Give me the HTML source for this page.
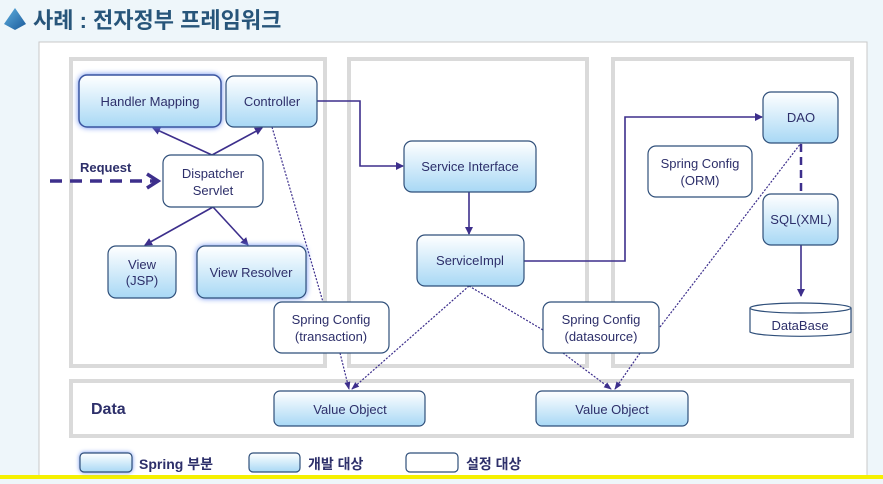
<!DOCTYPE html>
<html><head><meta charset="utf-8"><style>
body{margin:0;width:883px;height:479px;overflow:hidden;background:#eef6fa;font-family:"Liberation Sans","Noto Sans CJK KR",sans-serif}
</style></head><body>
<svg width="883" height="479" xmlns="http://www.w3.org/2000/svg" font-family="Liberation Sans, Noto Sans CJK KR, sans-serif">
<defs>
<linearGradient id="g" x1="0" y1="0" x2="0" y2="1"><stop offset="0" stop-color="#ffffff"/><stop offset="1" stop-color="#a8d8f5"/></linearGradient>
<linearGradient id="d" x1="0" y1="0" x2="1" y2="1"><stop offset="0" stop-color="#5fb0e0"/><stop offset="1" stop-color="#1a5a9a"/></linearGradient>
<marker id="a" markerWidth="8" markerHeight="8" refX="7" refY="4" orient="auto" markerUnits="userSpaceOnUse"><path d="M0,0 L8,4 L0,8 z" fill="#3d2f8c"/></marker>
<marker id="s" markerWidth="8" markerHeight="8" refX="7" refY="4" orient="auto" markerUnits="userSpaceOnUse"><path d="M0,1 L8,4 L0,7 z" fill="#3d2f8c"/></marker>
</defs>
<polygon points="15,8 26,24 15,30 4,24" fill="url(#d)"/>
<text x="33" y="28" font-size="22" fill="#27557a" font-weight="bold">사례 : 전자정부 프레임워크</text>
<rect x="39" y="42" width="828" height="440" fill="#fff" stroke="#c8c8c8"/>
<rect x="0" y="475" width="883" height="4" fill="#f5f000"/>
<g fill="none" stroke="#dadada" stroke-width="4">
<rect x="71" y="59" width="254" height="307"/>
<rect x="349" y="59" width="238" height="307"/>
<rect x="613" y="59" width="239" height="307"/>
<rect x="71" y="381" width="781" height="55"/>
</g>
<g stroke="#3d2f8c" stroke-width="1.6" fill="none">
<line x1="212" y1="155" x2="153" y2="128" marker-end="url(#a)"/>
<line x1="212" y1="155" x2="262" y2="128" marker-end="url(#a)"/>
<line x1="213" y1="207" x2="145" y2="245" marker-end="url(#a)"/>
<line x1="213" y1="207" x2="248" y2="245" marker-end="url(#a)"/>
<polyline points="317,101 360,101 360,166 403,166" marker-end="url(#a)"/>
<line x1="469" y1="192" x2="469" y2="234" marker-end="url(#a)"/>
<polyline points="524,261 625,261 625,117 762,117" marker-end="url(#a)"/>
<line x1="801" y1="245" x2="801" y2="296" marker-end="url(#a)"/>
<line x1="801" y1="144" x2="801" y2="194" stroke-width="2.5" stroke-dasharray="8,5"/>
<line x1="50" y1="181" x2="156" y2="181" stroke-width="3.5" stroke-dasharray="12,8"/>
<polyline points="147,174 158,181 147,188" stroke-width="3.5"/>
<g stroke-width="1.2" stroke-dasharray="2,1.5">
<line x1="272" y1="127" x2="323" y2="302"/>
<line x1="340" y1="353" x2="349" y2="389" marker-end="url(#s)"/>
<line x1="469" y1="286" x2="352" y2="389" marker-end="url(#s)"/>
<line x1="469" y1="286" x2="543" y2="330"/>
<line x1="563" y1="353" x2="611" y2="389" marker-end="url(#s)"/>
<line x1="640" y1="353" x2="615" y2="389" marker-end="url(#s)"/>
<line x1="660" y1="327" x2="801" y2="143"/>
</g>
</g>
<g stroke="#2f4f7a" stroke-width="1.2">
<rect x="79" y="75" width="142" height="52" rx="8" fill="url(#g)" stroke="#3b55a0" stroke-width="1.5" style="filter:drop-shadow(0 0 3px #6a8ff0)"/>
<rect x="226" y="76" width="91" height="51" rx="8" fill="url(#g)"/>
<rect x="163" y="155" width="100" height="52" rx="8" fill="#fff"/>
<rect x="108" y="246" width="68" height="52" rx="8" fill="url(#g)"/>
<rect x="197" y="246" width="109" height="52" rx="8" fill="url(#g)" style="filter:drop-shadow(0 0 3px #6a8ff0)"/>
<rect x="274" y="302" width="115" height="51" rx="8" fill="#fff"/>
<rect x="404" y="141" width="132" height="51" rx="8" fill="url(#g)"/>
<rect x="417" y="235" width="107" height="51" rx="8" fill="url(#g)"/>
<rect x="648" y="146" width="104" height="51" rx="8" fill="#fff"/>
<rect x="763" y="92" width="75" height="51" rx="8" fill="url(#g)"/>
<rect x="763" y="194" width="75" height="51" rx="8" fill="url(#g)"/>
<rect x="543" y="302" width="116" height="51" rx="8" fill="#fff"/>
<rect x="274" y="391" width="151" height="35" rx="6" fill="url(#g)"/>
<rect x="536" y="391" width="152" height="35" rx="6" fill="url(#g)"/>
<path d="M750,308 v24 a51,5 0 0 0 101,0 v-24" fill="#fff"/>
<ellipse cx="800.5" cy="308" rx="50.5" ry="5" fill="#fff"/>
<rect x="80" y="453" width="52" height="19" rx="4" fill="url(#g)" style="filter:drop-shadow(0 0 2px #6a8ff0)"/>
<rect x="249" y="453" width="51" height="19" rx="4" fill="url(#g)"/>
<rect x="406" y="453" width="52" height="19" rx="4" fill="#fff"/>
</g>
<g fill="#2d2f6a" font-size="13" text-anchor="middle">
<text x="150" y="106">Handler Mapping</text>
<text x="272" y="106">Controller</text>
<text x="213" y="178">Dispatcher</text><text x="213" y="195">Servlet</text>
<text x="142" y="269">View</text><text x="142" y="285">(JSP)</text>
<text x="251" y="277">View Resolver</text>
<text x="331" y="324">Spring Config</text><text x="331" y="341">(transaction)</text>
<text x="470" y="171">Service Interface</text>
<text x="470" y="265">ServiceImpl</text>
<text x="700" y="168">Spring Config</text><text x="700" y="185">(ORM)</text>
<text x="801" y="122">DAO</text>
<text x="801" y="224">SQL(XML)</text>
<text x="800" y="330">DataBase</text>
<text x="601" y="324">Spring Config</text><text x="601" y="341">(datasource)</text>
<text x="350" y="414">Value Object</text>
<text x="612" y="414">Value Object</text>
</g>
<g fill="#2d2f6a" font-weight="bold">
<text x="80" y="172" font-size="13">Request</text>
<text x="91" y="414" font-size="16">Data</text>
<text x="139" y="469" font-size="14">Spring 부분</text>
<text x="308" y="469" font-size="14">개발 대상</text>
<text x="466" y="469" font-size="14">설정 대상</text>
</g>
</svg>
</body></html>
